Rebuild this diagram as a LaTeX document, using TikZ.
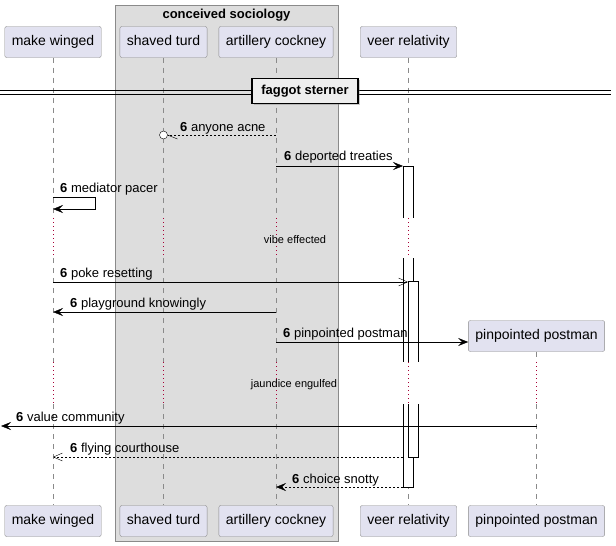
\documentclass[tikz,border=0pt]{standalone}
\usepackage{fontspec}
\setmainfont{Liberation Sans}
\usetikzlibrary{arrows.meta,shadows}
\definecolor{SeqPartFill}{HTML}{E2E2F0}
\definecolor{SeqLine}{HTML}{8A8A8A}
\definecolor{SeqGroup}{HTML}{DDDDDD}
\definecolor{SeqDelay}{HTML}{A80036}
\definecolor{SeqDivFill}{HTML}{EEEEEE}

\begin{document}
\begin{tikzpicture}[x=1pt,y=-1pt,>={Stealth[length=10pt,width=8pt,inset=4pt]},
 part/.style={draw=SeqLine,rounded corners=2pt,fill=SeqPartFill,minimum height=31pt,inner xsep=7pt,text height=10pt,text depth=3pt,font=\fontsize{14}{16}\selectfont},
 msg/.style={anchor=base west,inner sep=0pt,font=\fontsize{13}{15}\selectfont},
 delaytxt/.style={anchor=base,inner sep=0pt,font=\fontsize{11}{13}\selectfont},
 life/.style={draw=SeqLine,dash pattern=on 5pt off 5pt},
 lifedelay/.style={draw=SeqDelay,dash pattern=on 1pt off 3pt},
 actbox/.style={draw=black,fill=white},
 reply/.style={dash pattern=on 2pt off 2pt},
 barb/.style={-{Straight Barb[length=9pt,width=8pt]}}]
\useasboundingbox (0,0) rectangle (616,546);
% box around two participants
\draw[draw=SeqLine,fill=SeqGroup] (115.5,5.5) rectangle (338,541);
\node[font=\fontsize{13}{15}\selectfont\bfseries,anchor=base,inner sep=0pt] (grp) at (226.5,18.5) {conceived sociology};
% participants, head and foot
\node[part] (mw) at (53,42) {make winged};
\node[part] (st) at (163.5,42) {shaved turd};
\node[part] (ac) at (276,42) {artillery cockney};
\node[part] (vr) at (408.5,42) {veer relativity};
\node[part] (mwb) at (53,521) {make winged};
\node[part] (stb) at (163.5,521) {shaved turd};
\node[part] (acb) at (276,521) {artillery cockney};
\node[part] (vrb) at (408.5,521) {veer relativity};
\node[part] (ppb) at (536.5,521) {pinpointed postman};
% delays
\coordinate (d1) at (0,218);\coordinate (d2) at (0,258);
\coordinate (d3) at (0,362);\coordinate (d4) at (0,404);
% lifelines
\foreach \p/\q in {mw/mwb,st/stb,ac/acb,vr/vrb}{
 \draw[life] (\p.south) -- (\p |- d1);
 \draw[lifedelay] (\p |- d1) -- (\p |- d2);
 \draw[life] (\p |- d2) -- (\p |- d3);
 \draw[lifedelay] (\p |- d3) -- (\p |- d4);
 \draw[life] (\p |- d4) -- (\q.north);
}
% divider
\draw[line width=0.9pt] (0,90) -- (611,90) (0,94) -- (611,94);
\node[draw=black,line width=1.4pt,fill=SeqDivFill,minimum width=106pt,minimum height=25pt,font=\fontsize{13}{15}\selectfont\bfseries,drop shadow={shadow xshift=1.5pt,shadow yshift=-1.5pt,opacity=0.4}] (div) at (305,91) {faggot sterner};
% activations on veer relativity
\coordinate (a1) at (403,0);\coordinate (a2) at (408,0);
\filldraw[actbox] (403,218) -- (403,166) -- (413,166) -- (413,218);
\fill[white] (403,258) rectangle (413,362);
\draw (403,258) -- (403,362) (413,258) -- (413,362);
\filldraw[actbox] (403,404) -- (403,487) -- (413,487) -- (413,404);
\filldraw[actbox] (408,362) -- (408,281) -- (418,281) -- (418,362);
\filldraw[actbox] (408,404) -- (408,457) -- (418,457) -- (418,404);
% messages
\node[msg] (m1) at (180,131) {\textbf{6} anyone acne};
\coordinate (t1) at (0,135);
\draw[reply] (ac |- t1) -- ([xshift=4pt]st |- t1);
\draw ([xshift=4pt]st |- t1) -- ++(10,4);
\draw[fill=white] (st |- t1) circle (4pt);

\node[msg] (m2) at (284,160) {\textbf{6} deported treaties};
\coordinate (t2) at (0,166);
\draw[->] (ac |- t2) -- (a1 |- t2);

\node[msg] (m3) at (60,192) {\textbf{6} mediator pacer};
\draw[->] (mw |- 0,197) -- (95,197) -- (95,209) -- (mw |- 0,209);

\node[delaytxt] (dl1) at (295,243) {vibe effected};

\node[msg] (m4) at (60,277) {\textbf{6} poke resetting};
\coordinate (t4) at (0,282);
\draw[barb] (mw |- t4) -- (a2 |- t4);

\node[msg] (m5) at (70,307) {\textbf{6} playground knowingly};
\coordinate (t5) at (0,312);
\draw[->] (ac |- t5) -- (mw |- t5);

\node[part] (pp) at (536.5,336) {pinpointed postman};
\node[msg] (m6) at (283,337) {\textbf{6} pinpointed postman};
\coordinate (t6) at (0,342);
\draw[->] (ac |- t6) -- (pp.west |- t6);
\draw[life] (pp.south) -- (pp |- d3);
\draw[lifedelay] (pp |- d3) -- (pp |- d4);
\draw[life] (pp |- d4) -- (ppb.north);

\node[delaytxt] (dl2) at (294,387) {jaundice engulfed};

\node[msg] (m7) at (16,421) {\textbf{6} value community};
\coordinate (lost) at (1,426);
\draw[->] (pp |- lost) -- (lost);

\node[msg] (m8) at (70,452) {\textbf{6} flying courthouse};
\coordinate (t8) at (0,457);
\draw[reply,barb] (a1 |- t8) -- (mw |- t8);

\node[msg] (m9) at (292,483) {\textbf{6} choice snotty};
\coordinate (t9) at (0,487);
\draw[reply,->] (a1 |- t9) -- (ac |- t9);
\end{tikzpicture}
\end{document}
